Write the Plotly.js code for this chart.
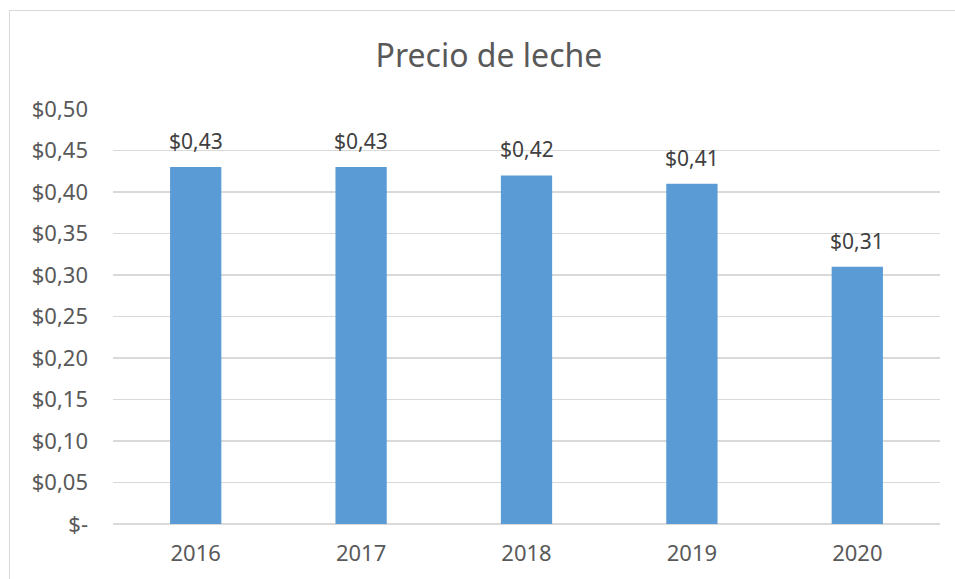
<!DOCTYPE html>
<html>
<head>
<meta charset="utf-8">
<script src="https://cdn.plot.ly/plotly-3.0.1.min.js"></script>
<style>
html,body{margin:0;padding:0;background:#fff;}
#wrap{position:relative;width:955px;height:579px;}
#chart{width:955px;height:579px;}
#frame{position:absolute;left:9px;top:10px;width:960px;height:580px;border-left:1px solid #d9d9d9;border-top:1px solid #d9d9d9;pointer-events:none;}
</style>
</head>
<body>
<div id="wrap"><div id="chart"></div><div id="frame"></div></div>
<script>
var years = ['2016','2017','2018','2019','2020'];
var prices = [0.43, 0.43, 0.42, 0.41, 0.31];
var tickValues = [0, 0.05, 0.10, 0.15, 0.20, 0.25, 0.30, 0.35, 0.40, 0.45, 0.50];
var tickLabels = ['$-','$0,05','$0,10','$0,15','$0,20','$0,25','$0,30','$0,35','$0,40','$0,45','$0,50'];

var FONT = 'Noto Sans, sans-serif';
var trace = {
  type: 'bar',
  x: years,
  y: prices,
  marker: {color: '#5b9bd5'},
  hoverinfo: 'none'
};
var annotations = prices.map(function(v, i){
  return {x: i, y: v, xref: 'x', yref: 'y', text: '$' + v.toFixed(2).replace('.', ','), showarrow: false,
          yanchor: 'bottom', yshift: 10, font: {family: FONT, size: 21, color: '#404040'}};
});
var layout = {
  width: 955, height: 579,
  separators: ',.',
  margin: {l: 113, r: 15, t: 109, b: 55},
  paper_bgcolor: '#ffffff',
  plot_bgcolor: '#ffffff',
  bargap: 0.69,
  showlegend: false,
  annotations: annotations,
  title: {text: 'Precio de leche', x: 0.512, xref: 'container', xanchor: 'center', y: 0.903, yref: 'container', yanchor: 'middle', font: {family: FONT, size: 32, color: '#595959'}},
  xaxis: {type: 'category', showgrid: false, zeroline: false, showline: false, ticks: '', tickfont: {family: FONT, size: 22, color: '#595959'}, ticklabelstandoff: 14},
  yaxis: {range: [0, 0.5], tickvals: tickValues, ticktext: tickLabels, showgrid: true, gridcolor: '#d9d9d9', gridwidth: 1.5, zeroline: true, zerolinecolor: '#d9d9d9', zerolinewidth: 1.5, showline: false, ticks: '', tickfont: {family: FONT, size: 22, color: '#595959'}, ticklabelstandoff: 24}
};
Plotly.newPlot('chart', [trace], layout, {displayModeBar: false, staticPlot: true});
</script>
</body>
</html>
